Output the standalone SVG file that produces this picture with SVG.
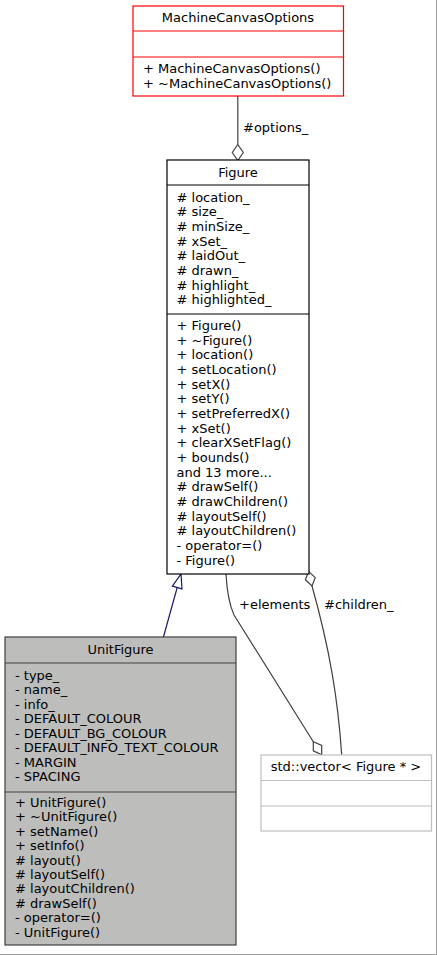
<svg xmlns="http://www.w3.org/2000/svg" width="437" height="955" viewBox="0 0 437 955">
<style>
text{font-family:"DejaVu Sans","Liberation Sans",sans-serif;font-size:13px;fill:#000}
.c{text-anchor:middle}
.box{stroke-width:1.2}
.edge{fill:none;stroke:#404040;stroke-width:1.2}
.dia{fill:#fff;stroke:#404040;stroke-width:1.2}
.inh{fill:none;stroke:#191970;stroke-width:1.2}
.tri{fill:#fff;stroke:#191970;stroke-width:1.2}
</style>
<rect x="0" y="0" width="437" height="955" fill="#fff"/>
<line x1="436.5" y1="0" x2="436.5" y2="955" stroke="#a0a0a0"/>
<line x1="0" y1="954.5" x2="437" y2="954.5" stroke="#a0a0a0"/>

<g id="connectors">
  <path class="edge" d="M237.8,96 L237.8,144.5"/>
  <polygon class="dia" points="237.8,144.5 243.3,152.5 237.8,160.5 232.3,152.5"/>
  <text x="243" y="132">#options_</text>

  <path class="inh" d="M177.2,587.5 L163.3,637.5"/>
  <polygon class="tri" points="181,574 182,588.9 172.4,586.2"/>

  <path class="edge" d="M226,574 C227,592 229,604 234,615 L313.3,741.7"/>
  <polygon class="dia" points="313.3,741.7 321.7,745.5 321.7,754.8 313.3,750.9"/>
  <text x="239" y="608.5">+elements</text>

  <path class="edge" d="M312,586 C330,650 338,700 341.7,755"/>
  <polygon class="dia" points="308.6,571.4 315.2,577.6 312,586 305.4,579.8"/>
  <text x="324" y="608.5">#children_</text>
</g>

<g id="MachineCanvasOptions">
  <rect class="box" x="133" y="6" width="210.5" height="90" fill="#fff" stroke="#ff0000"/>
  <line x1="133" y1="31" x2="343.5" y2="31" stroke="#ff0000" stroke-width="1.2"/>
  <line x1="133" y1="57" x2="343.5" y2="57" stroke="#ff0000" stroke-width="1.2"/>
  <text class="c" x="238" y="21.5">MachineCanvasOptions</text>
  <text x="143" y="73">+ MachineCanvasOptions()</text>
  <text x="143" y="87.5">+ ~MachineCanvasOptions()</text>
</g>

<g id="Figure">
  <rect class="box" x="167" y="160" width="142" height="414" fill="#fff" stroke="#000"/>
  <line x1="167" y1="185" x2="309" y2="185" stroke="#000" stroke-width="1.2"/>
  <line x1="167" y1="314" x2="309" y2="314" stroke="#000" stroke-width="1.2"/>
  <text class="c" x="238" y="177">Figure</text>
  <text x="176.5" y="201.7"># location_</text>
  <text x="176.5" y="216.4"># size_</text>
  <text x="176.5" y="231"># minSize_</text>
  <text x="176.5" y="245.7"># xSet_</text>
  <text x="176.5" y="260.4"># laidOut_</text>
  <text x="176.5" y="275"># drawn_</text>
  <text x="176.5" y="289.7"># highlight_</text>
  <text x="176.5" y="304.4"># highlighted_</text>
  <text x="176.5" y="330">+ Figure()</text>
  <text x="176.5" y="344.7">+ ~Figure()</text>
  <text x="176.5" y="359.3">+ location()</text>
  <text x="176.5" y="374">+ setLocation()</text>
  <text x="176.5" y="388.7">+ setX()</text>
  <text x="176.5" y="403.3">+ setY()</text>
  <text x="176.5" y="418">+ setPreferredX()</text>
  <text x="176.5" y="432.7">+ xSet()</text>
  <text x="176.5" y="447.4">+ clearXSetFlag()</text>
  <text x="176.5" y="462">+ bounds()</text>
  <text x="176.5" y="476.7">and 13 more...</text>
  <text x="176.5" y="491.4"># drawSelf()</text>
  <text x="176.5" y="506"># drawChildren()</text>
  <text x="176.5" y="520.7"># layoutSelf()</text>
  <text x="176.5" y="535.4"># layoutChildren()</text>
  <text x="176.5" y="550">- operator=()</text>
  <text x="176.5" y="564.7">- Figure()</text>
</g>

<g id="UnitFigure">
  <rect class="box" x="5" y="637" width="231" height="308" fill="#bdbebb" stroke="#404040"/>
  <line x1="5" y1="663" x2="236" y2="663" stroke="#404040" stroke-width="1.2"/>
  <line x1="5" y1="792" x2="236" y2="792" stroke="#404040" stroke-width="1.2"/>
  <text class="c" x="120.5" y="653.5">UnitFigure</text>
  <text x="15" y="680">- type_</text>
  <text x="15" y="694.4">- name_</text>
  <text x="15" y="708.9">- info_</text>
  <text x="15" y="723.3">- DEFAULT_COLOUR</text>
  <text x="15" y="737.7">- DEFAULT_BG_COLOUR</text>
  <text x="15" y="752.2">- DEFAULT_INFO_TEXT_COLOUR</text>
  <text x="15" y="766.6">- MARGIN</text>
  <text x="15" y="781">- SPACING</text>
  <text x="15" y="806.7">+ UnitFigure()</text>
  <text x="15" y="821.1">+ ~UnitFigure()</text>
  <text x="15" y="835.6">+ setName()</text>
  <text x="15" y="850">+ setInfo()</text>
  <text x="15" y="864.5"># layout()</text>
  <text x="15" y="878.9"># layoutSelf()</text>
  <text x="15" y="893.3"># layoutChildren()</text>
  <text x="15" y="907.8"># drawSelf()</text>
  <text x="15" y="922.2">- operator=()</text>
  <text x="15" y="936.7">- UnitFigure()</text>
</g>

<g id="std_vector_Figure">
  <rect class="box" x="261" y="755" width="170.5" height="76" fill="#fff" stroke="#bfbfbf"/>
  <line x1="261" y1="780.5" x2="431.5" y2="780.5" stroke="#bfbfbf" stroke-width="1.2"/>
  <line x1="261" y1="806" x2="431.5" y2="806" stroke="#bfbfbf" stroke-width="1.2"/>
  <text class="c" x="346" y="771">std::vector&lt; Figure * &gt;</text>
</g>
</svg>
